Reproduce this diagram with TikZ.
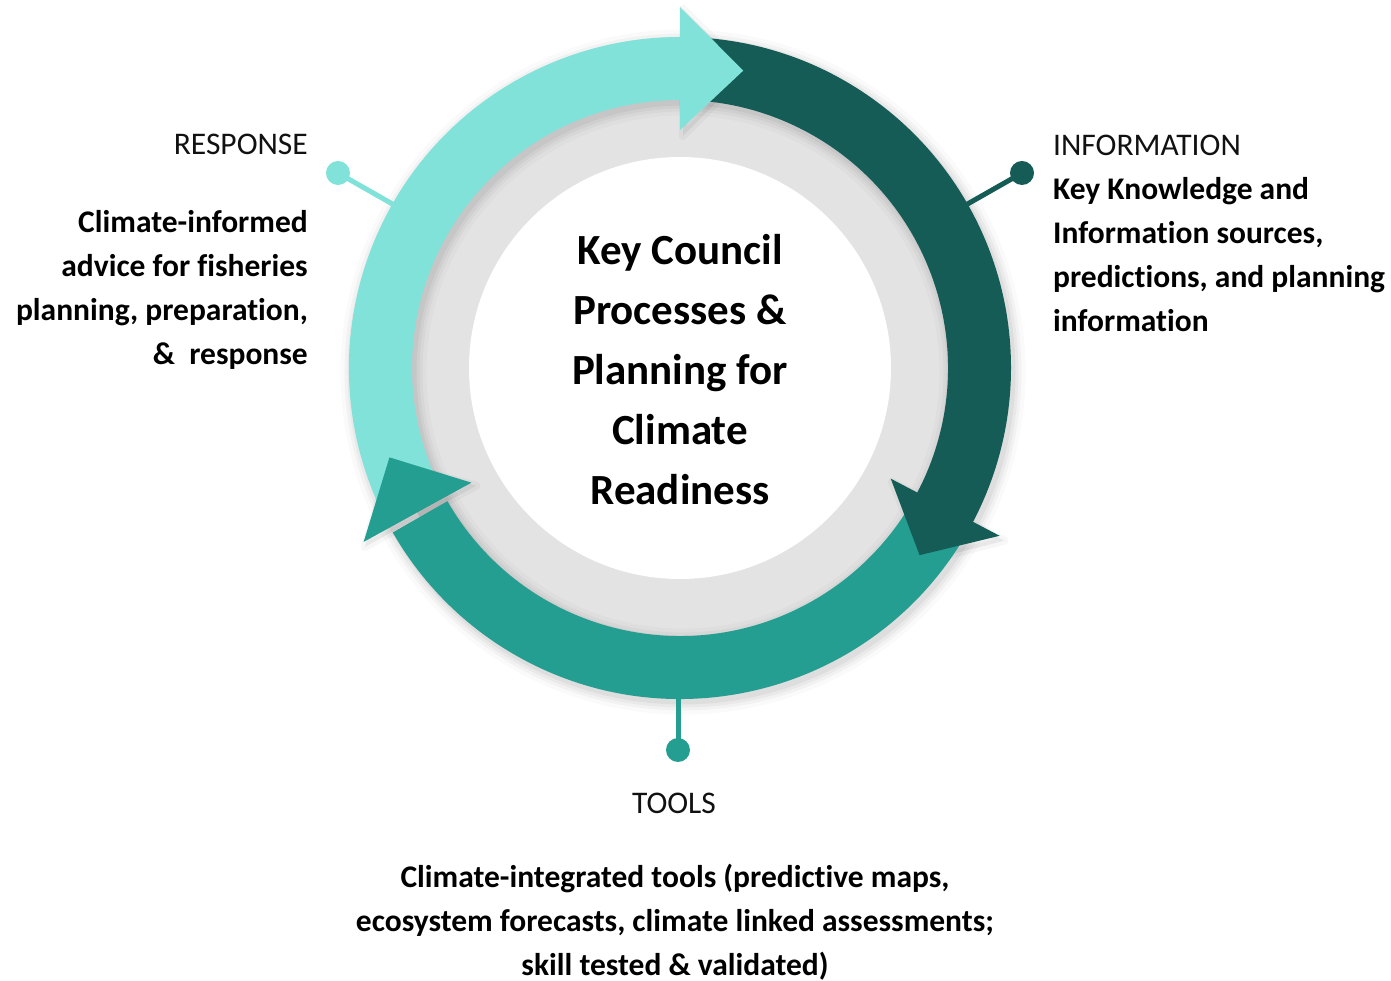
\documentclass[tikz,border=0pt]{standalone}
\usepackage{fontspec}
\setmainfont{Carlito}[Ligatures=NoCommon]
\definecolor{lt}{HTML}{80E2D9}
\definecolor{dk}{HTML}{165C56}
\definecolor{md}{HTML}{259E92}
\definecolor{ringgray}{HTML}{E3E3E3}
\definecolor{txt}{HTML}{111111}
\newcommand\ringband[3]{\fill[#3] (#1:331pt) arc[start angle=#1, end angle=#2, radius=331pt] -- (#2:268pt) arc[start angle=#2, end angle=#1, radius=268pt] -- cycle;}
\newcommand\ringhead[3]{\fill[#3] (#1:361pt) -- (#2:304pt) -- (#1:238pt) -- cycle;}
\newcommand\headshadow[2]{\fill[black, opacity=0.06, shift={(3pt,-4pt)}] (#1:363pt) -- (#2:307pt) -- (#1:236pt) -- cycle;
  \draw[black, opacity=0.03, line width=8pt, line join=round, shift={(3pt,-4pt)}] (#1:363pt) -- (#2:307pt) -- (#1:236pt) -- cycle;}
\tikzset{
  dot/.style={circle, inner sep=0pt, minimum size=24pt},
  conn/.style={line width=5pt},
  lbl/.style={inner sep=0pt, text=txt, font=\fontsize{31.5pt}{37pt}\selectfont},
  body/.style={inner sep=0pt, text=black, font=\fontsize{31.5pt}{44pt}\selectfont\bfseries},
  centre/.style={inner sep=0pt, text=black, font=\fontsize{43pt}{60pt}\selectfont\bfseries}
}
\begin{document}
\begin{tikzpicture}[x=1pt,y=1pt]
\useasboundingbox[fill=white] (-680,-613) rectangle (711,368);
% gray ring and white centre
\fill[ringgray] (0,0) circle[radius=300pt];
\fill[white] (0,0) circle[radius=211pt];
% soft shadow of ring
\foreach \w/\o in {86/0.02,78/0.03,72/0.035,66/0.045}
  \draw[black, opacity=\o, line width=\w pt] (3pt,-4pt) circle[radius=299.5pt];
\headshadow{90}{78}
\headshadow{-27.7}{-38}
\headshadow{-151.2}{-162.9}
% connectors
\coordinate (respring) at (150.3:320pt);
\coordinate (inforing) at (29.7:320pt);
\coordinate (toolring) at (-2pt,-320pt);
\node[dot, fill=lt] (respdot) at (-342pt,195pt) {};
\node[dot, fill=dk] (infodot) at (342pt,195pt) {};
\node[dot, fill=md] (tooldot) at (-2pt,-382pt) {};
\draw[conn, lt] (respring) -- (respdot.center);
\draw[conn, dk] (inforing) -- (infodot.center);
\draw[conn, md] (toolring) -- (tooldot.center);
% arrow bands
\ringband{206}{89}{lt}
\ringband{87}{-28.7}{dk}
\ringband{-30.5}{-150.2}{md}
% arrow heads
\ringhead{90}{78}{lt}
\ringhead{-27.7}{-38}{dk}
\ringhead{-151.2}{-162.9}{md}
% centre text
\node[centre, align=center, anchor=north] (centretext) at (0pt,134pt) {Key Council\\Processes \&\\Planning for\\Climate\\Readiness};
% labels
\node[lbl, anchor=base east] (resplbl) at (-372pt,213pt) {RESPONSE};
\node[body, align=right, anchor=north east] (resptext) at (-372pt,158pt) {Climate-informed\\advice for fisheries\\planning, preparation,\\\&\ \ response};
\node[lbl, anchor=base west] (infolbl) at (373pt,212pt) {INFORMATION};
\node[body, align=left, anchor=north west] (infotext) at (373pt,191pt) {Key Knowledge and\\Information sources,\\predictions, and planning\\information};
\node[lbl, anchor=base] (toollbl) at (-6pt,-445pt) {TOOLS};
\node[body, align=center, anchor=north] (tooltext) at (-5pt,-496pt) {Climate-integrated tools (predictive maps,\\ecosystem forecasts, climate linked assessments;\\skill tested \& validated)};
\end{tikzpicture}
\end{document}
